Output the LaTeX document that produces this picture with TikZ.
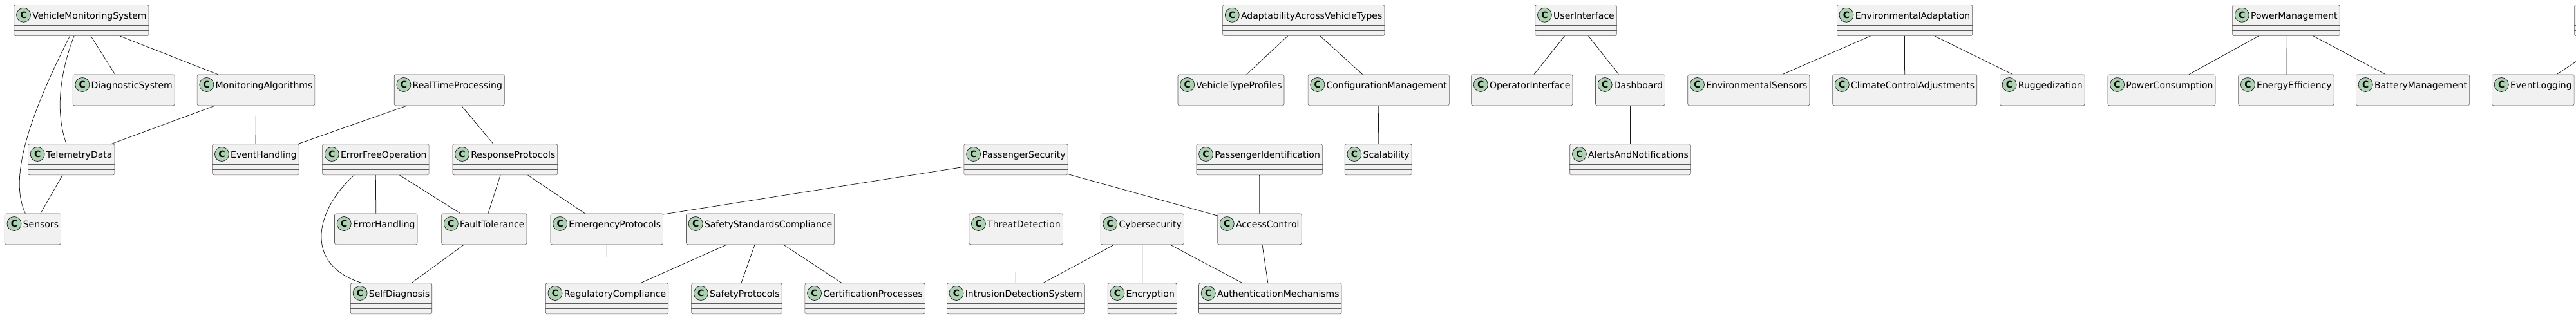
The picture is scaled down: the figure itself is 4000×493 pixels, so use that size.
\documentclass[tikz,border=0pt]{standalone}
\usepackage{fontspec}
\setmainfont{DejaVu Sans}
\usepackage{xcolor,tikz}
\usetikzlibrary{positioning}
\definecolor{clsfill}{HTML}{F1F1F1}
\definecolor{clsline}{HTML}{181818}
\definecolor{badgefill}{HTML}{ADD1B2}
\tikzset{%
  cls/.style={draw=clsline!70,line width=.6pt,fill=clsfill,rounded corners=2.5pt,anchor=north,
    inner xsep=0pt,inner ysep=11pt,text height=10.5pt,text depth=15.5pt,
    font=\fontsize{14}{16}\selectfont},
  sep/.style={draw=clsline!70,line width=.6pt},
  badge/.style={circle,draw=clsline,line width=.7pt,fill=badgefill,minimum size=22pt,inner sep=0pt,
    font=\fontsize{14}{16}\selectfont\bfseries},
  link/.style={draw=clsline,line width=.75pt}
}
% class box: name, centre x, top y
\newcommand{\umlclass}[3]{%
  \node[cls] (#1) at (#2,-#3) {\hspace*{28.5pt}#1\hspace*{3.5pt}};
  \draw[sep] ([yshift=-32pt]#1.north west) -- ([yshift=-32pt]#1.north east);
  \draw[sep] ([yshift=-40pt]#1.north west) -- ([yshift=-40pt]#1.north east);
  \node[badge] at ([xshift=15pt,yshift=-16pt]#1.north west) {C};
}

\begin{document}
\begin{tikzpicture}[x=1pt,y=1pt]
  \useasboundingbox (0,0) rectangle (4000,-493);

  % row 1
  \umlclass{VehicleMonitoringSystem}{126.4}{7.3}
  \umlclass{AdaptabilityAcrossVehicleTypes}{2024.2}{7.3}
  \umlclass{UserInterface}{2447}{7.3}
  \umlclass{EnvironmentalAdaptation}{2957.5}{7.3}
  \umlclass{PowerManagement}{3549.8}{7.3}
  \node[cls,anchor=north west,minimum width=160pt] (offpage) at (3997.3,-7.3) {};
  \draw[sep] ([yshift=-32pt]offpage.north west) -- ([yshift=-32pt]offpage.north east);
  \draw[sep] ([yshift=-40pt]offpage.north west) -- ([yshift=-40pt]offpage.north east);

  % row 2
  \umlclass{DiagnosticSystem}{192.2}{115.5}
  \umlclass{MonitoringAlgorithms}{397.5}{115.5}
  \umlclass{RealTimeProcessing}{697.8}{115.5}
  \umlclass{VehicleTypeProfiles}{1911.5}{115.5}
  \umlclass{ConfigurationManagement}{2140.7}{115.5}
  \umlclass{OperatorInterface}{2363.2}{115.5}
  \umlclass{Dashboard}{2531.4}{115.5}
  \umlclass{EnvironmentalSensors}{2715.3}{115.5}
  \umlclass{ClimateControlAdjustments}{2957.6}{115.5}
  \umlclass{Ruggedization}{3171.3}{115.5}
  \umlclass{PowerConsumption}{3356.4}{115.5}
  \umlclass{EnergyEfficiency}{3549.9}{115.5}
  \umlclass{BatteryManagement}{3746.5}{115.5}
  \umlclass{EventLogging}{3933.3}{115.5}

  % row 3
  \umlclass{TelemetryData}{110.7}{223.5}
  \umlclass{EventHandling}{397}{223.5}
  \umlclass{ErrorFreeOperation}{583.3}{223.5}
  \umlclass{ResponseProtocols}{784.3}{223.5}
  \umlclass{PassengerSecurity}{1577.5}{223.5}
  \umlclass{PassengerIdentification}{1955.6}{223.5}
  \umlclass{Scalability}{2140.2}{223.5}
  \umlclass{AlertsAndNotifications}{2531.5}{223.5}

  % row 4
  \umlclass{Sensors}{50.9}{331.5}
  \umlclass{ErrorHandling}{583.8}{331.5}
  \umlclass{FaultTolerance}{751.8}{331.5}
  \umlclass{EmergencyProtocols}{942.3}{331.5}
  \umlclass{SafetyStandardsCompliance}{1180.6}{331.5}
  \umlclass{ThreatDetection}{1577.5}{331.5}
  \umlclass{Cybersecurity}{1773.7}{331.5}
  \umlclass{AccessControl}{1955.8}{331.5}

  % row 5
  \umlclass{SelfDiagnosis}{607.6}{439.5}
  \umlclass{RegulatoryCompliance}{942.5}{439.5}
  \umlclass{SafetyProtocols}{1143.9}{439.5}
  \umlclass{CertificationProcesses}{1343.1}{439.5}
  \umlclass{IntrusionDetectionSystem}{1577.3}{439.5}
  \umlclass{Encryption}{1773.8}{439.5}
  \umlclass{AuthenticationMechanisms}{1972.3}{439.5}

  % links
  \draw[link] ([xshift=-17.9pt]VehicleMonitoringSystem.south) .. controls +(-68.5,-135) and +(-24.3,52) .. ([xshift=-11.6pt]Sensors.north);
  \draw[link] ([xshift=-11.4pt]VehicleMonitoringSystem.south) .. controls +(-23,-60) and +(-17,48) .. ([xshift=-7.7pt]TelemetryData.north);
  \draw[link] ([xshift=14.6pt]VehicleMonitoringSystem.south) -- ([xshift=-13.6pt]DiagnosticSystem.north);
  \draw[link] ([xshift=59.6pt]VehicleMonitoringSystem.south) -- ([xshift=-59.5pt]MonitoringAlgorithms.north);
  \draw[link] ([xshift=-63.5pt]MonitoringAlgorithms.south) -- ([xshift=62.3pt]TelemetryData.north);
  \draw[link] (MonitoringAlgorithms.south) -- (EventHandling.north);
  \draw[link] ([xshift=-65.8pt]RealTimeProcessing.south) -- ([xshift=66pt]EventHandling.north);
  \draw[link] ([xshift=-13.7pt]TelemetryData.south) -- ([xshift=12.1pt]Sensors.north);
  \draw[link] ([xshift=-33.3pt]ErrorFreeOperation.south) .. controls +(-60,-54) and +(-91.6,29) .. ([xshift=-46pt]SelfDiagnosis.north);
  \draw[link] (ErrorFreeOperation.south) -- (ErrorHandling.north);
  \draw[link] ([xshift=37.2pt]ErrorFreeOperation.south) -- ([xshift=-37.1pt]FaultTolerance.north);
  \draw[link] ([xshift=-31.3pt]FaultTolerance.south) -- ([xshift=31.4pt]SelfDiagnosis.north);
  \draw[link] ([xshift=18.7pt]RealTimeProcessing.south) -- ([xshift=-18.3pt]ResponseProtocols.north);
  \draw[link] ([xshift=-7.3pt]ResponseProtocols.south) -- ([xshift=6.2pt]FaultTolerance.north);
  \draw[link] ([xshift=35.3pt]ResponseProtocols.south) -- ([xshift=-34.3pt]EmergencyProtocols.north);
  \draw[link] ([yshift=-11.5pt]PassengerSecurity.west) -- ([yshift=-1.5pt]EmergencyProtocols.north east);
  \draw[link] (EmergencyProtocols.south) -- (RegulatoryCompliance.north);
  \draw[link] ([xshift=-52pt]SafetyStandardsCompliance.south) -- ([xshift=52.5pt]RegulatoryCompliance.north);
  \draw[link] ([xshift=-8.6pt]SafetyStandardsCompliance.south) -- ([xshift=7.1pt]SafetyProtocols.north);
  \draw[link] ([xshift=35.9pt]SafetyStandardsCompliance.south) -- ([xshift=-36.1pt]CertificationProcesses.north);
  \draw[link] ([xshift=-24.6pt]AdaptabilityAcrossVehicleTypes.south) -- ([xshift=24.2pt]VehicleTypeProfiles.north);
  \draw[link] ([xshift=25.8pt]AdaptabilityAcrossVehicleTypes.south) -- ([xshift=-25.1pt]ConfigurationManagement.north);
  \draw[link] (PassengerSecurity.south) -- (ThreatDetection.north);
  \draw[link] ([yshift=1.5pt]PassengerSecurity.south east) -- ([yshift=-3.5pt]AccessControl.north west);
  \draw[link] (PassengerIdentification.south) -- (AccessControl.north);
  \draw[link] (ThreatDetection.south) -- (IntrusionDetectionSystem.north);
  \draw[link] ([xshift=-43.7pt]Cybersecurity.south) -- ([xshift=42.7pt]IntrusionDetectionSystem.north);
  \draw[link] (Cybersecurity.south) -- (Encryption.north);
  \draw[link] ([xshift=43.3pt]Cybersecurity.south) -- ([xshift=-43.3pt]AuthenticationMechanisms.north);
  \draw[link] ([xshift=4.2pt]AccessControl.south) -- ([xshift=-3.5pt]AuthenticationMechanisms.north);
  \draw[link] (ConfigurationManagement.south) -- (Scalability.north);
  \draw[link] ([xshift=-17.5pt]UserInterface.south) -- ([xshift=18.8pt]OperatorInterface.north);
  \draw[link] ([xshift=19.5pt]UserInterface.south) -- ([xshift=-18pt]Dashboard.north);
  \draw[link] (Dashboard.south) -- (AlertsAndNotifications.north);
  \draw[link] ([xshift=-53pt]EnvironmentalAdaptation.south) -- ([xshift=52.7pt]EnvironmentalSensors.north);
  \draw[link] (EnvironmentalAdaptation.south) -- (ClimateControlAdjustments.north);
  \draw[link] ([xshift=46.5pt]EnvironmentalAdaptation.south) -- ([xshift=-46.3pt]Ruggedization.north);
  \draw[link] ([xshift=-42.5pt]PowerManagement.south) -- ([xshift=42.6pt]PowerConsumption.north);
  \draw[link] (PowerManagement.south) -- (EnergyEfficiency.north);
  \draw[link] ([xshift=42.2pt]PowerManagement.south) -- ([xshift=-42.5pt]BatteryManagement.north);
  \draw[link] ([xshift=62.7pt]offpage.south west) -- ([xshift=36.7pt]EventLogging.north);
\end{tikzpicture}
\end{document}
